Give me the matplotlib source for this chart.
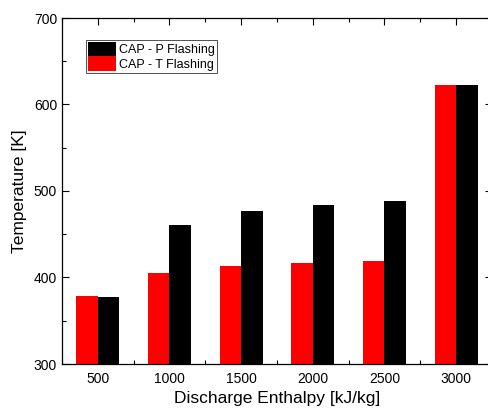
import matplotlib
matplotlib.use("Agg")
import matplotlib.pyplot as plt
from matplotlib.ticker import MultipleLocator

# discharge enthalpy groups (kJ/kg)
enthalpy = [500, 1000, 1500, 2000, 2500, 3000]
# temperature [K]
t_flashing = [378.6, 404.8, 413.3, 417.1, 419.4, 622.5]
p_flashing = [377.5, 460.7, 476.5, 484.2, 488.4, 622.5]

plt.rcParams["font.family"] = ["Liberation Sans", "DejaVu Sans"]

fig = plt.figure(figsize=(4.89, 4.15), dpi=100)
ax = fig.add_axes([62 / 489, 51 / 415, 430 / 489, 346 / 415])

w = 150
ax.bar([x - w / 2 for x in enthalpy], t_flashing, width=w, color="#ff0000",
       label="CAP - T Flashing", zorder=2)
ax.bar([x + w / 2 for x in enthalpy], p_flashing, width=w, color="#000000",
       label="CAP - P Flashing", zorder=2)

ax.set_xlim(250, 3250)
ax.set_ylim(300, 700)
ax.xaxis.set_major_locator(MultipleLocator(500))
ax.xaxis.set_minor_locator(MultipleLocator(250))
ax.yaxis.set_major_locator(MultipleLocator(100))
ax.yaxis.set_minor_locator(MultipleLocator(50))
ax.tick_params(which="both", direction="in", top=True, right=True,
               labelsize=10, width=0.8)
ax.tick_params(which="major", length=5)
ax.tick_params(which="minor", length=3)
ax.tick_params(axis="x", pad=6)
for s in ax.spines.values():
    s.set_linewidth(0.9)

ax.set_xlabel("Discharge Enthalpy [kJ/kg]", fontsize=12.5, labelpad=3)
ax.set_ylabel("Temperature [K]", fontsize=12.5, labelpad=5)

h, l = ax.get_legend_handles_labels()
leg = ax.legend(h[::-1], l[::-1], loc="upper left", bbox_to_anchor=(0.056, 0.936),
                fontsize=9, frameon=True, fancybox=False, framealpha=1,
                edgecolor="#333333", handlelength=2.3, handleheight=1.45,
                handletextpad=0.25, labelspacing=0.0, borderpad=0.12,
                borderaxespad=0)
leg.get_frame().set_linewidth(0.6)

fig.savefig("out.png", dpi=100)
